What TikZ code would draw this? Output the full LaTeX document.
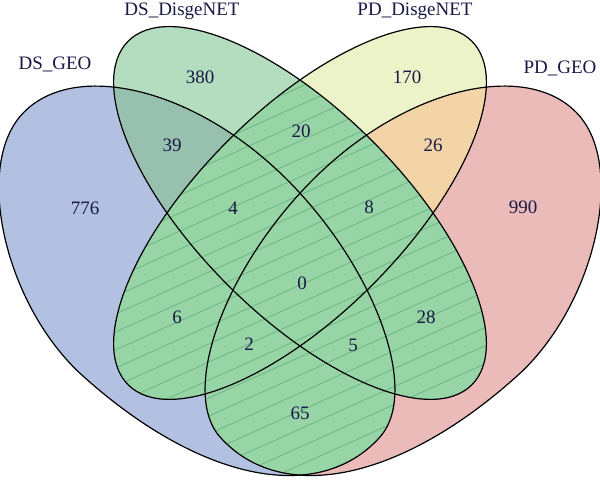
\documentclass[tikz,border=0pt]{standalone}
\usepackage{fontspec}
\setmainfont{Liberation Serif}
\definecolor{colA}{RGB}{178,192,225}
\definecolor{colB}{RGB}{180,220,191}
\definecolor{colC}{RGB}{237,243,200}
\definecolor{colD}{RGB}{235,187,186}
\definecolor{colAB}{RGB}{151,192,174}
\definecolor{colCD}{RGB}{242,212,167}
\definecolor{colX}{RGB}{151,212,166}
\definecolor{hatchcol}{RGB}{112,186,134}
\definecolor{txtcol}{RGB}{25,25,70}
\tikzset{
  ellA/.style={insert path={(379.7,42.7)
    .. controls (423.2,91.0) and (369.3,226.9) .. (272,314.6)
    .. controls (182.1,395.6) and (69.3,418.3) .. (21.5,365.2)
    .. controls (-26.6,311.8) and (5.8,173.5) .. (82.6,104.3)
    .. controls (199.4,-0.9) and (318.3,-25.5) .. (379.7,42.7) -- cycle}},
  ellD/.style={insert path={(220.3,42.7)
    .. controls (176.8,91.0) and (230.7,226.9) .. (328,314.6)
    .. controls (417.9,395.6) and (530.7,418.3) .. (578.5,365.2)
    .. controls (626.6,311.8) and (594.2,173.5) .. (517.4,104.3)
    .. controls (400.6,-0.9) and (281.7,-25.5) .. (220.3,42.7) -- cycle}},
  ellB/.style={insert path={(300,267) ellipse [x radius=243,y radius=102,rotate=-45]}},
  ellC/.style={insert path={(300,267) ellipse [x radius=243,y radius=102,rotate=45]}},
  lbl/.style={text=txtcol,font=\fontsize{9.5}{11}\selectfont,inner sep=0pt},
  outline/.style={draw=black,line width=0.6pt},
  hatchline/.style={draw=hatchcol,line width=0.45pt}
}
\newcommand\myhatch{%
  \fill[colX] (0,0) rectangle (600,480);
  \foreach \c in {-300,-282,...,500} {
    \draw[hatchline] (0,\c) -- (600,\c+270);
  }}
\begin{document}
\begin{tikzpicture}[x=0.5pt,y=0.5pt]
\useasboundingbox (0,0) rectangle (600,480);
\clip (0,0) rectangle (600,480);
\fill[white] (0,0) rectangle (600,480);
% single sets
\fill[colA, ellA];
\fill[colD, ellD];
\fill[colB, ellB];
\fill[colC, ellC];
% A and B
\begin{scope}
  \clip[ellA];
  \fill[colAB, ellB];
\end{scope}
% C and D
\begin{scope}
  \clip[ellC];
  \fill[colCD, ellD];
\end{scope}
% (A or B) and (C or D): the four pairwise overlaps
\begin{scope}\clip[ellA];\clip[ellC];\myhatch\end{scope}
\begin{scope}\clip[ellA];\clip[ellD];\myhatch\end{scope}
\begin{scope}\clip[ellB];\clip[ellC];\myhatch\end{scope}
\begin{scope}\clip[ellB];\clip[ellD];\myhatch\end{scope}
% outlines
\draw[outline, ellA];
\draw[outline, ellD];
\draw[outline, ellB];
\draw[outline, ellC];
% set labels
\node[lbl] (tA) at (55,416) {DS\_GEO};
\node[lbl] (tB) at (182,469) {DS\_DisgeNET};
\node[lbl] (tC) at (415,469) {PD\_DisgeNET};
\node[lbl] (tD) at (560,412) {PD\_GEO};
% counts
\node[lbl] (n776) at (85,272) {776};
\node[lbl] (n380) at (200,403) {380};
\node[lbl] (n170) at (407,403) {170};
\node[lbl] (n990) at (523,273) {990};
\node[lbl] (n39) at (172,335) {39};
\node[lbl] (n26) at (433,335) {26};
\node[lbl] (n20) at (301,349) {20};
\node[lbl] (n4) at (233,272) {4};
\node[lbl] (n8) at (369,273) {8};
\node[lbl] (n0) at (302,197) {0};
\node[lbl] (n6) at (177,163) {6};
\node[lbl] (n28) at (426,163) {28};
\node[lbl] (n2) at (249,136) {2};
\node[lbl] (n5) at (353,135) {5};
\node[lbl] (n65) at (300,67) {65};
\end{tikzpicture}
\end{document}
